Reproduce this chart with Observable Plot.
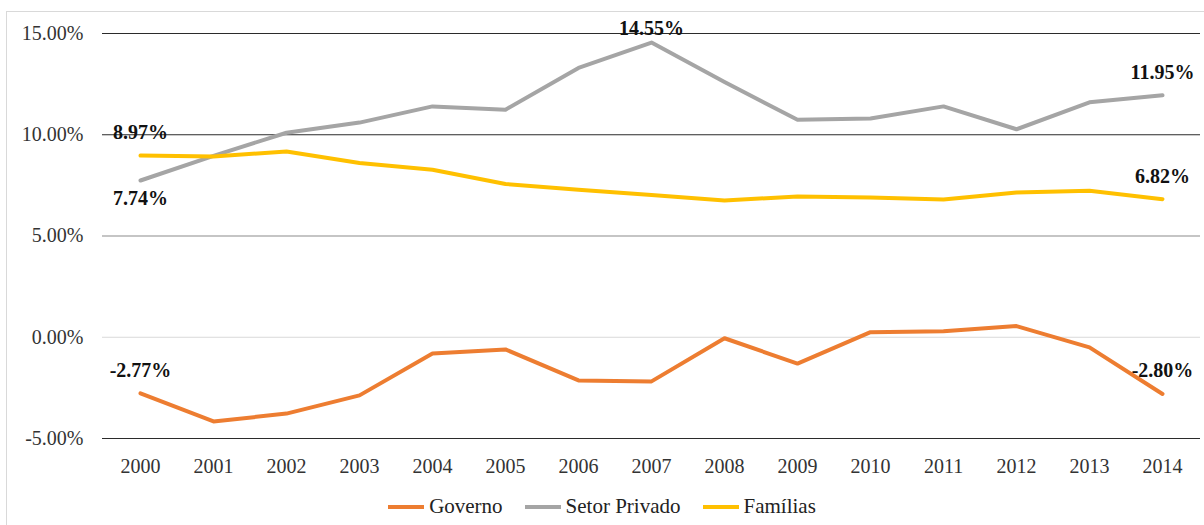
<!DOCTYPE html>
<html>
<head>
<meta charset="utf-8">
<script src="https://cdn.jsdelivr.net/npm/d3@7"></script>
<script src="https://cdn.jsdelivr.net/npm/@observablehq/plot@0.6"></script>
<style>
  html, body { margin: 0; padding: 0; background: #fff; }
  body { width: 1204px; height: 525px; overflow: hidden; position: relative; }
  #frame { position: absolute; left: 6px; top: 11px; width: 1210px; height: 530px;
           border: 1px solid #d9d9d9; box-sizing: border-box; }
  #chart { position: absolute; left: 0; top: 0; }
  #legend { position: absolute; left: 0; top: 494px; width: 1204px; display: flex;
            justify-content: center; font-family: "Liberation Serif", "Times New Roman", serif;
            font-size: 21px; color: #222; }
  .item { display: flex; align-items: center; margin: 0 11px; }
  .swatch { width: 36px; height: 4px; margin-right: 5px; }
  svg text { font-family: "Liberation Serif", "Times New Roman", serif; }
</style>
</head>
<body>
<div id="frame"></div>
<div id="chart"></div>
<div id="legend"></div>
<script>
// Annual rates (%) by sector, 2000–2014
const years = [2000, 2001, 2002, 2003, 2004, 2005, 2006, 2007, 2008, 2009, 2010, 2011, 2012, 2013, 2014];
const governo = [-2.77, -4.16, -3.77, -2.87, -0.80, -0.60, -2.13, -2.18, -0.05, -1.30, 0.25, 0.30, 0.55, -0.50, -2.80];
const setorPrivado = [7.74, 8.96, 10.10, 10.60, 11.40, 11.24, 13.30, 14.55, 12.60, 10.74, 10.80, 11.40, 10.27, 11.60, 11.95];
const familias = [8.97, 8.93, 9.17, 8.60, 8.27, 7.57, 7.28, 7.03, 6.75, 6.95, 6.90, 6.80, 7.15, 7.23, 6.82];

const seriesNames = ["Governo", "Setor Privado", "Famílias"];
const seriesColors = ["#ED7D31", "#A5A5A5", "#FFC000"];
const yTicks = [-5, 0, 5, 10, 15];

const seriesValues = [governo, setorPrivado, familias];
const rows = seriesNames.flatMap((name, i) =>
  years.map((year, j) => ({series: name, year, value: seriesValues[i][j]}))
);

// Labelled points: first and last of each series, plus the private-sector peak
const last = years[years.length - 1];
const peakYear = years[setorPrivado.indexOf(d3.max(setorPrivado))];
const labelAbove = rows.filter(d =>
  (d.year === last) || (d.year === years[0] && d.series !== "Setor Privado"));
const labelBelow = rows.filter(d => d.year === years[0] && d.series === "Setor Privado");
const labelPeak = rows.filter(d => d.series === "Setor Privado" && d.year === peakYear);

const pct = v => v.toFixed(2) + "%";
const gridStroke = v => v === 0 ? "#d9d9d9" : v === 5 ? "#8c8c8c" : "#2b2b2b";

const font = '"Liberation Serif", "Times New Roman", serif';
const labelStyle = {x: d => String(d.year), y: "value", text: d => pct(d.value),
  fontSize: 20, fontWeight: "bold", fill: "#111", fontFamily: font};

const chart = Plot.plot({
  width: 1204,
  height: 492,
  marginLeft: 102,
  marginRight: 4,
  marginTop: 33,
  marginBottom: 54,
  style: {fontFamily: font, fontSize: "20px", color: "#333", background: "transparent"},
  x: {type: "point", domain: years.map(String), padding: 0.5, label: null,
      tickSize: 0, tickPadding: 20},
  y: {domain: [-5, 15], ticks: yTicks, tickFormat: pct, label: null, tickSize: 0, tickPadding: 19},
  color: {domain: seriesNames, range: seriesColors},
  marks: [
    Plot.ruleY(yTicks, {stroke: d => gridStroke(d), strokeWidth: 1.2}),
    Plot.line(rows, {x: d => String(d.year), y: "value", z: "series", stroke: "series",
      strokeWidth: 4, strokeLinejoin: "round", strokeLinecap: "round"}),
    Plot.text(labelAbove, {...labelStyle, dy: -23}),
    Plot.text(labelBelow, {...labelStyle, dy: 18}),
    Plot.text(labelPeak, {...labelStyle, dy: -14})
  ]
});
document.getElementById("chart").appendChild(chart);

const legend = d3.select("#legend");
seriesNames.forEach((name, i) => {
  const item = legend.append("div").attr("class", "item");
  item.append("div").attr("class", "swatch").style("background", seriesColors[i]);
  item.append("span").text(name);
});
</script>
</body>
</html>
